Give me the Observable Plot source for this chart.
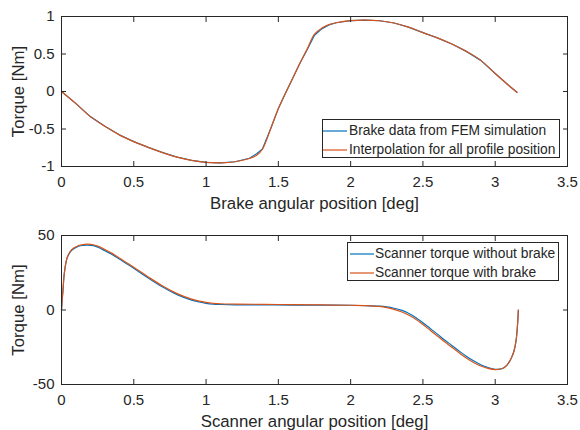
<!DOCTYPE html>
<html>
<head>
<meta charset="utf-8">
<script src="https://cdn.jsdelivr.net/npm/d3@7"></script>
<script src="https://cdn.jsdelivr.net/npm/@observablehq/plot@0.6"></script>
<style>
  html, body { margin: 0; padding: 0; background: #fff; }
  #wrap { position: relative; width: 580px; height: 430px; font-family: "Liberation Sans", Arial, sans-serif; color: #262626; }
  #wrap svg { display: block; }
  .legend { position: absolute; background: #fff; border: 1px solid #262626; box-sizing: border-box; font-size: 13.8px; }
  .legend .row { position: absolute; left: 0; height: 16px; line-height: 16px; white-space: nowrap; }
  .legend .row svg { position: absolute; top: 7px; }
  .legend .row span { position: absolute; top: 0; }
</style>
</head>
<body>
<div id="wrap"></div>
<script>
// ---- Top chart: brake torque ----
const brakeAngle = [0, 0.1, 0.2, 0.3, 0.4, 0.5, 0.6, 0.7, 0.8, 0.9, 1.0, 1.1, 1.2, 1.3, 1.35, 1.39, 1.45, 1.5, 1.55, 1.6, 1.65, 1.7, 1.75, 1.8, 1.85, 1.9, 2.0, 2.1, 2.2, 2.3, 2.4, 2.5, 2.6, 2.7, 2.8, 2.9, 3.0, 3.1, 3.15];
const brakeTorqueFEM = [0, -0.162, -0.335, -0.462, -0.578, -0.668, -0.745, -0.815, -0.875, -0.918, -0.945, -0.951, -0.937, -0.89, -0.83, -0.765, -0.48, -0.228, -0.02, 0.18, 0.38, 0.56, 0.75, 0.835, 0.888, 0.917, 0.946, 0.951, 0.943, 0.913, 0.858, 0.785, 0.715, 0.633, 0.535, 0.415, 0.24, 0.07, -0.01];
const brakeTorqueInterp = [0, -0.162, -0.335, -0.462, -0.578, -0.668, -0.745, -0.815, -0.875, -0.918, -0.945, -0.951, -0.937, -0.893, -0.85, -0.77, -0.48, -0.228, -0.02, 0.18, 0.38, 0.57, 0.765, 0.845, 0.892, 0.917, 0.946, 0.951, 0.943, 0.913, 0.858, 0.785, 0.715, 0.633, 0.535, 0.415, 0.24, 0.07, -0.01];

// ---- Bottom chart: scanner torque ----
const scannerAngle = [0, 0.004, 0.01, 0.02, 0.04, 0.07, 0.1, 0.14, 0.18, 0.22, 0.26, 0.3, 0.35, 0.4, 0.5, 0.6, 0.7, 0.8, 0.9, 1.0, 1.05, 1.1, 1.2, 1.4, 1.6, 1.8, 2.0, 2.1, 2.2, 2.25, 2.3, 2.35, 2.4, 2.45, 2.5, 2.55, 2.6, 2.65, 2.7, 2.75, 2.8, 2.85, 2.9, 2.95, 3.0, 3.05, 3.08, 3.11, 3.13, 3.145, 3.155, 3.16];
const torqueNoBrake = [0, 6, 13, 25, 35.2, 40.0, 42.0, 43.3, 43.6, 43.2, 41.8, 39.8, 37.3, 34.2, 28.0, 21.5, 15.4, 10.3, 6.6, 4.5, 3.9, 3.7, 3.5, 3.4, 3.3, 3.3, 3.2, 3.0, 2.6, 2.1, 1.2, -0.1, -2.2, -5.0, -8.6, -12.4, -16.2, -20.1, -23.8, -27.5, -31.0, -34.1, -36.7, -38.6, -39.8, -39.3, -37.2, -32.5, -27.5, -20, -9, 0];
const torqueWithBrake = [0, 6, 13, 25, 35.4, 40.5, 42.5, 43.8, 44.2, 43.8, 42.5, 40.5, 38.0, 34.9, 28.7, 22.2, 16.1, 11.0, 7.3, 5.1, 4.5, 4.2, 4.0, 3.8, 3.6, 3.4, 3.2, 3.0, 2.4, 1.6, 0.4, -1.2, -3.4, -6.2, -9.8, -13.6, -17.4, -21.3, -25, -28.7, -32.2, -35.2, -37.6, -39.2, -40, -39.3, -37.2, -32.5, -27.5, -20, -9, 0];

const xTicks = [0, 0.5, 1, 1.5, 2, 2.5, 3, 3.5];
const yTicksTop = [-1, -0.5, 0, 0.5, 1];
const yTicksBottom = [-50, 0, 50];

const labelsTop = ["Brake data from FEM simulation", "Interpolation for all profile position"];
const labelsBottom = ["Scanner torque without brake", "Scanner torque with brake"];
const xLabelTop = "Brake angular position [deg]";
const xLabelBottom = "Scanner angular position [deg]";
const yLabel = "Torque [Nm]";

const BLUE = "#0072BD", ORANGE = "#D95319", AX = "#262626";
const FONT = "'Liberation Sans', Arial, sans-serif";

const toRows = (xs, ys) => xs.map((x, i) => ({x, y: ys[i]}));

function boxAxes(yTicks) {
  const fmt = d => String(d);
  return [
    Plot.axisX({anchor: "bottom", ticks: xTicks, tickSize: -5, tickPadding: 15, tickFormat: fmt, label: null, stroke: AX, fill: AX}),
    Plot.axisX({anchor: "top", ticks: xTicks, tickSize: -5, tickFormat: () => "", label: null, stroke: AX}),
    Plot.axisY({anchor: "left", ticks: yTicks, tickSize: -5, tickPadding: 12, tickFormat: fmt, label: null, stroke: AX, fill: AX}),
    Plot.axisY({anchor: "right", ticks: yTicks, tickSize: -5, tickFormat: () => "", label: null, stroke: AX}),
    Plot.frame({stroke: AX, strokeWidth: 1})
  ];
}

function makeChart({yDomain, yTicks, series, xLabel, marginTop, marginBottom}) {
  return Plot.plot({
    width: 580, height: 215,
    marginLeft: 61, marginRight: 13, marginTop, marginBottom,
    style: {fontFamily: FONT, fontSize: "15px", color: AX, background: "#fff", overflow: "visible"},
    x: {domain: [0, 3.5]},
    y: {domain: yDomain},
    marks: [
      ...series.map(s => Plot.line(s.data, {x: "x", y: "y", stroke: s.color, strokeWidth: 1.2, curve: s.curve})),
      ...boxAxes(yTicks),
      Plot.text([xLabel], {frameAnchor: "bottom", dy: 37.5, fontSize: 16.8, fill: AX, textAnchor: "middle", lineAnchor: "middle"}),
      Plot.text([yLabel], {frameAnchor: "left", dx: -43, rotate: -90, fontSize: 16.8, fill: AX, textAnchor: "middle", lineAnchor: "middle"})
    ]
  });
}

const wrap = document.getElementById("wrap");

const chartTop = makeChart({
  yDomain: [-1, 1], yTicks: yTicksTop, xLabel: xLabelTop, marginTop: 16, marginBottom: 49,
  series: [
    {data: toRows(brakeAngle, brakeTorqueFEM), color: BLUE, curve: "linear"},
    {data: toRows(brakeAngle, brakeTorqueInterp), color: ORANGE, curve: "catmull-rom"}
  ]
});
const chartBottom = makeChart({
  yDomain: [-50, 50], yTicks: yTicksBottom, xLabel: xLabelBottom, marginTop: 20, marginBottom: 46,
  series: [
    {data: toRows(scannerAngle, torqueNoBrake), color: BLUE, curve: "catmull-rom"},
    {data: toRows(scannerAngle, torqueWithBrake), color: ORANGE, curve: "catmull-rom"}
  ]
});
wrap.appendChild(chartTop);
wrap.appendChild(chartBottom);

function legend({left, top, width, height, rows, swatchX, textX, colors}) {
  const div = document.createElement("div");
  div.className = "legend";
  Object.assign(div.style, {left: left + "px", top: top + "px", width: width + "px", height: height + "px"});
  rows.forEach((label, i) => {
    const row = document.createElement("div");
    row.className = "row";
    row.style.top = (i === 0 ? 3 : 21.5) + "px";
    row.style.width = "100%";
    const sw = d3.create("svg").attr("width", 24).attr("height", 2)
      .style("left", swatchX + "px");
    sw.append("line").attr("x1", 0).attr("x2", 24).attr("y1", 1).attr("y2", 1)
      .attr("stroke", colors[i]).attr("stroke-width", 1.2);
    row.appendChild(sw.node());
    const span = document.createElement("span");
    span.textContent = label;
    span.style.left = textX + "px";
    row.appendChild(span);
    div.appendChild(row);
  });
  wrap.appendChild(div);
}

legend({left: 322, top: 119, width: 238, height: 39, rows: labelsTop, swatchX: 0, textX: 26, colors: [BLUE, ORANGE]});
legend({left: 347, top: 242, width: 212, height: 39, rows: labelsBottom, swatchX: 2, textX: 27, colors: [BLUE, ORANGE]});
</script>
</body>
</html>
